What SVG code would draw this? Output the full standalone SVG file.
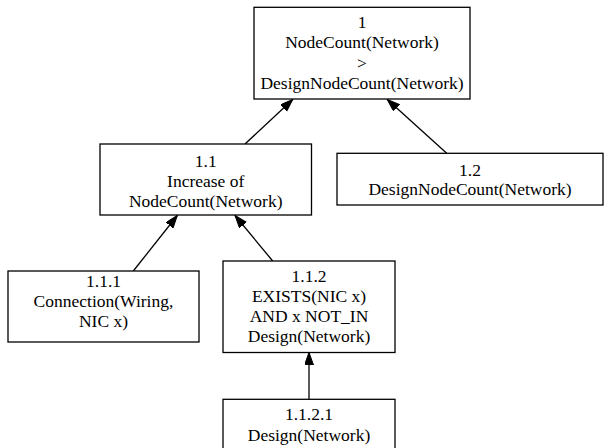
<svg xmlns="http://www.w3.org/2000/svg" width="604" height="448" viewBox="0 0 604 448">
<style>
.box{fill:#fff;stroke:#000;stroke-width:1.3}
.t{font-family:'Liberation Serif','DejaVu Serif','Times New Roman',serif;font-size:17.5px;text-anchor:middle;fill:#000}
.e{stroke:#000;stroke-width:1.3;fill:none;marker-end:url(#ah)}
</style>
<defs>
<marker id="ah" markerUnits="userSpaceOnUse" markerWidth="14" markerHeight="10" refX="12.5" refY="4.5" orient="auto" viewBox="0 0 14 10">
<path d="M0,0 L12.5,4.5 L0,9 z" fill="#000" stroke="#000" stroke-width="1"/>
</marker>
</defs>
<rect width="604" height="448" fill="#fff"/>
<g id="edges">
<line class="e" x1="245" y1="144" x2="292.7" y2="99.5"/>
<line class="e" x1="446.7" y1="153.3" x2="387.3" y2="99.5"/>
<line class="e" x1="133.3" y1="271" x2="177.3" y2="215.5"/>
<line class="e" x1="272.7" y1="261" x2="235" y2="215.5"/>
<line class="e" x1="309" y1="399" x2="309" y2="352.5"/>
</g>
<g font-family="Liberation Serif, DejaVu Serif, serif">
<g id="n1">
<rect class="box" x="254" y="7.3" width="216" height="91.7"/>
<text class="t" x="362" y="27.5">1</text>
<text class="t" x="362" y="48">NodeCount(Network)</text>
<text class="t" x="362" y="68.5">&gt;</text>
<text class="t" x="362" y="89">DesignNodeCount(Network)</text>
</g>
<g id="n1_1">
<rect class="box" x="100" y="144" width="211.5" height="71"/>
<text class="t" x="205.7" y="166.7">1.1</text>
<text class="t" x="205.7" y="186.7">Increase of</text>
<text class="t" x="205.7" y="206.7">NodeCount(Network)</text>
</g>
<g id="n1_2">
<rect class="box" x="337" y="153.3" width="266" height="51.7"/>
<text class="t" x="470" y="175.7">1.2</text>
<text class="t" x="470" y="195">DesignNodeCount(Network)</text>
</g>
<g id="n1_1_1">
<rect class="box" x="8" y="271" width="191" height="71"/>
<text class="t" x="103.5" y="286.7">1.1.1</text>
<text class="t" x="103.5" y="306.7">Connection(Wiring,</text>
<text class="t" x="103.5" y="326.7">NIC x)</text>
</g>
<g id="n1_1_2">
<rect class="box" x="223" y="261" width="172" height="91.5"/>
<text class="t" x="309" y="281.7">1.1.2</text>
<text class="t" x="309" y="301.7">EXISTS(NIC x)</text>
<text class="t" x="309" y="321.7">AND x NOT_IN</text>
<text class="t" x="309" y="342.3">Design(Network)</text>
</g>
<g id="n1_1_2_1">
<rect class="box" x="223" y="399.3" width="172" height="60"/>
<text class="t" x="309" y="420">1.1.2.1</text>
<text class="t" x="309" y="440.7">Design(Network)</text>
</g>
</g>
</svg>
